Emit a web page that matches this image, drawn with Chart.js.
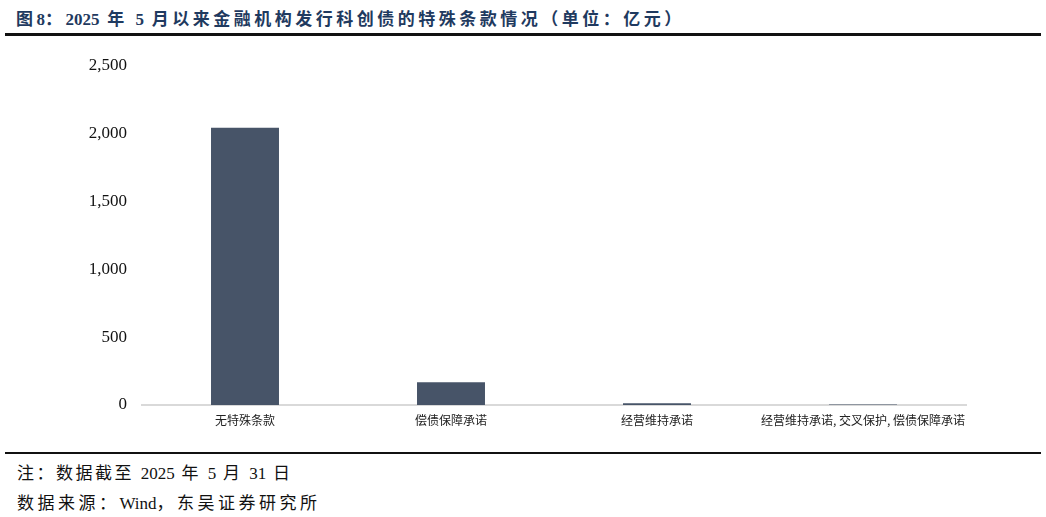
<!DOCTYPE html>
<html><head><meta charset="utf-8">
<script src="https://cdn.jsdelivr.net/npm/chart.js@4.4.0/dist/chart.umd.min.js"></script>
<style>
html,body{margin:0;padding:0;background:#fff;width:1046px;height:517px;overflow:hidden;}
#title{position:absolute;left:16px;top:5px;font-family:"Liberation Serif","Noto Sans CJK SC",serif;font-weight:bold;font-size:17px;letter-spacing:3.5px;color:#1f3a60;white-space:pre;}
.n{letter-spacing:0;}
.rule{position:absolute;left:5px;width:1036px;background:#111;}
#wrap{position:absolute;left:0;top:40px;width:1046px;height:410px;}
.note{position:absolute;left:17px;font-family:"Liberation Serif","Noto Sans CJK SC",serif;font-size:17px;letter-spacing:2.5px;color:#111;white-space:pre;}
</style></head>
<body>
<div id="title">图<span class="n">8</span>：<span class="n">2025</span> 年 <span class="n">5</span> 月以来金融机构发行科创债的特殊条款情况（单位：亿元）</div>
<div class="rule" style="top:33px;height:3px"></div>
<div id="wrap"><canvas id="c"></canvas></div>
<div class="rule" style="top:452px;height:2px"></div>
<div class="note" style="top:459px">注：数据截至 <span class="n">2025</span> 年 <span class="n">5</span> 月 <span class="n">31</span> 日</div>
<div class="note" style="top:489px;letter-spacing:3.5px">数据来源：<span class="n">Wind</span>，东吴证券研究所</div>
<script>
const categories = ["无特殊条款", "偿债保障承诺", "经营维持承诺", "经营维持承诺, 交叉保护, 偿债保障承诺"];
const values = [2040, 167, 12, 4];
const yTicks = [0, 500, 1000, 1500, 2000, 2500];

new Chart(document.getElementById('c'), {
  type: 'bar',
  data: {
    labels: categories,
    datasets: [{
      data: values,
      backgroundColor: '#475468',
      borderWidth: 0,
      categoryPercentage: 1,
      barPercentage: 0.33
    }]
  },
  options: {
    responsive: true,
    maintainAspectRatio: false,
    animation: false,
    layout: { padding: { left: 0, right: 80, top: 24, bottom: 0 } },
    plugins: { legend: { display: false }, tooltip: { enabled: false } },
    scales: {
      x: {
        grid: { display: false, drawTicks: false },
        border: { display: true, color: '#d9d9d9', width: 2 },
        ticks: { color: '#222', padding: 8, maxRotation: 0, autoSkip: false,
          font: { family: '"Noto Sans CJK SC", sans-serif', size: 12 } },
        afterFit: s => { s.height = 45; }
      },
      y: {
        min: 0, max: 2500,
        afterBuildTicks: s => { s.ticks = yTicks.map(v => ({ value: v })); },
        grid: { display: false, drawTicks: false },
        border: { display: false },
        ticks: { color: '#111', padding: 15,
          font: { family: '"Liberation Serif", serif', size: 17 },
          callback: v => v.toLocaleString('en-US') },
        afterFit: s => { s.width = 142; }
      }
    }
  }
});
</script>
</body></html>
